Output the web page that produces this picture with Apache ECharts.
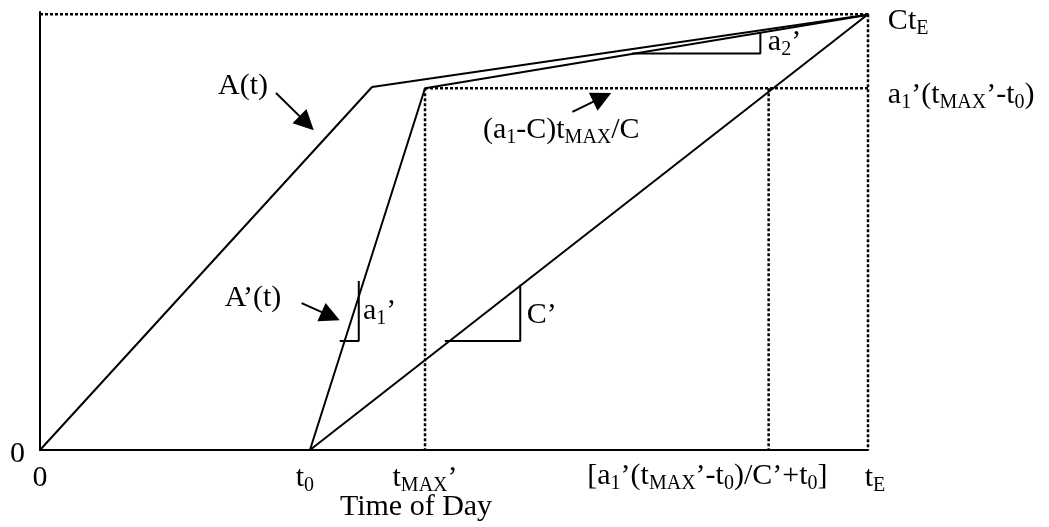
<!DOCTYPE html>
<html>
<head>
<meta charset="utf-8">
<script src="https://cdn.jsdelivr.net/npm/echarts@6/dist/echarts.min.js"></script>
<style>
  html, body { margin: 0; padding: 0; background: #fff; }
  #chart { width: 1049px; height: 527px; }
</style>
</head>
<body>
<div id="chart"></div>
<script>
// key times (x) and levels (y) (tE = 100, CtE = 100)
const tE = 100
const t0 = 32.6
const tMax = 46.5       // tMAX'
const tCross = 88.0     // [a1'(tMAX'-t0)/C'+t0]
const topLevel = 100    // CtE
const kneeLevel = 83.0  // a1'(tMAX'-t0)

const curveA = [[0, 0], [40.1, 83.3], [101.2, 100.2]]
const curveA2 = [[t0, 0], [tMax, kneeLevel], [101.2, 100.2]]
const lineC = [[t0, 0], [tE, topLevel]]
const slopeA1 = [[36.2, 25.0], [38.5, 25.0], [38.5, 38.8]]
const slopeC = [[48.9, 25.0], [58.0, 25.0], [58.0, 37.9]]
const slopeA2 = [[71.5, 91.0], [87.0, 91.0], [87.0, 95.9]]

// dotted guide lines
const guides = [
  [[0, topLevel], [tE, topLevel]],
  [[tE, topLevel], [tE, 0]],
  [[tMax, kneeLevel], [tE, kneeLevel]],
  [[tMax, kneeLevel], [tMax, 0]],
  [[tCross, kneeLevel], [tCross, 0]]
]

// arrows: tail -> head
const arrows = [
  [[28.5, 81.9], [32.2, 75.0]],
  [[31.6, 33.7], [35.1, 30.7]],
  [[64.3, 77.6], [67.9, 80.9]]
]

const xTicks = [0, t0, tMax, tE]
const xTickLabels = [
  '{m|0}',
  '{m|t}{s|0}{g10| }',
  '{m|t}{s|MAX}{m|’}',
  '{g14| }{m|t}{s|E}'
]

// text notes: [x, y, text]
const notes = [
  [21.5, 83.5, '{m|A(t)}'],
  [22.3, 34.8, '{m|A’(t)}'],
  [39.0, 31.9, '{m|a}{s|1}{m|’}'],
  [58.8, 31.0, '{m|C’}'],
  [87.9, 93.6, '{m|a}{s|2}{m|’}'],
  [53.5, 73.4, '{m|(a}{s|1}{m|-C)t}{s|MAX}{m|/C}'],
  [102.4, 98.4, '{m|Ct}{s|E}'],
  [102.4, 81.5, '{m|a}{s|1}{m|’(t}{s|MAX}{m|’-t}{s|0}{m|)}'],
  [66.1, -6.0, '{m|[a}{s|1}{m|’(t}{s|MAX}{m|’-t}{s|0}{m|)/C’+t}{s|0}{m|]}']
]

const FONT = 'Liberation Serif'
const rich = {
  m: { fontFamily: FONT, fontSize: 30, lineHeight: 30, color: '#000', verticalAlign: 'middle' },
  s: { fontFamily: FONT, fontSize: 20, lineHeight: 14, padding: [16, 0, 0, 0], color: '#000', verticalAlign: 'middle' },
  y: { fontFamily: FONT, fontSize: 30, lineHeight: 30, padding: [8, 0, 0, 0], color: '#000' },
  g10: { width: 10, fontSize: 30, lineHeight: 30 },
  g14: { width: 14, fontSize: 30, lineHeight: 30 }
}

function solid(data) {
  return {
    type: 'line', data, symbol: 'none', silent: true,
    lineStyle: { color: '#000', width: 2 }
  }
}

function dotted(data) {
  return {
    type: 'line', data, symbol: 'none', silent: true,
    lineStyle: { color: '#000', width: 2.5, type: [3, 2] }
  }
}

let series = [
  solid(curveA),
  solid(curveA2),
  solid(lineC),
  solid(slopeA1),
  solid(slopeC),
  solid(slopeA2)
]
guides.forEach(g => series.push(dotted(g)))

series.push({
  type: 'scatter', data: [], silent: true,
  markLine: {
    silent: true,
    symbol: ['none', 'triangle'],
    symbolSize: 20,
    label: { show: false },
    lineStyle: { color: '#000', width: 2, type: 'solid' },
    itemStyle: { color: '#000' },
    emphasis: { disabled: true },
    data: arrows.map(a => [{ coord: a[0] }, { coord: a[1] }])
  }
})

series.push({
  type: 'scatter', data: notes, symbolSize: 0, silent: true, clip: false,
  itemStyle: { color: '#000', opacity: 1 },
  label: {
    show: true, position: [0, 0], align: 'left', verticalAlign: 'middle',
    color: '#000', opacity: 1,
    formatter: p => p.data[2], rich
  }
})

let myChart = echarts.init(document.getElementById('chart'))
myChart.setOption({
  animation: false,
  backgroundColor: '#fff',
  grid: { left: 40, right: 181, top: 12, bottom: 77, containLabel: false, outerBoundsMode: 'none' },
  xAxis: {
    type: 'value', min: 0, max: tE,
    axisLine: { show: true, lineStyle: { color: '#000', width: 2 } },
    axisTick: { show: false },
    splitLine: { show: false },
    axisLabel: {
      customValues: xTicks, margin: 13, rich,
      showMinLabel: true, showMaxLabel: true, hideOverlap: false,
      formatter: v => xTickLabels[xTicks.indexOf(v)]
    },
    name: 'Time of Day', nameLocation: 'middle', nameGap: 42, nameMoveOverlap: false,
    nameTextStyle: { fontFamily: FONT, fontSize: 30, color: '#000', padding: [0, 76, 0, 0] }
  },
  yAxis: {
    type: 'value', min: 0, max: 100.5,
    axisLine: { show: true, lineStyle: { color: '#000', width: 2 } },
    axisTick: { show: false },
    splitLine: { show: false },
    axisLabel: {
      customValues: [0], margin: 15, rich,
      formatter: v => '{y|' + v + '}'
    }
  },
  series
})
</script>
</body>
</html>
